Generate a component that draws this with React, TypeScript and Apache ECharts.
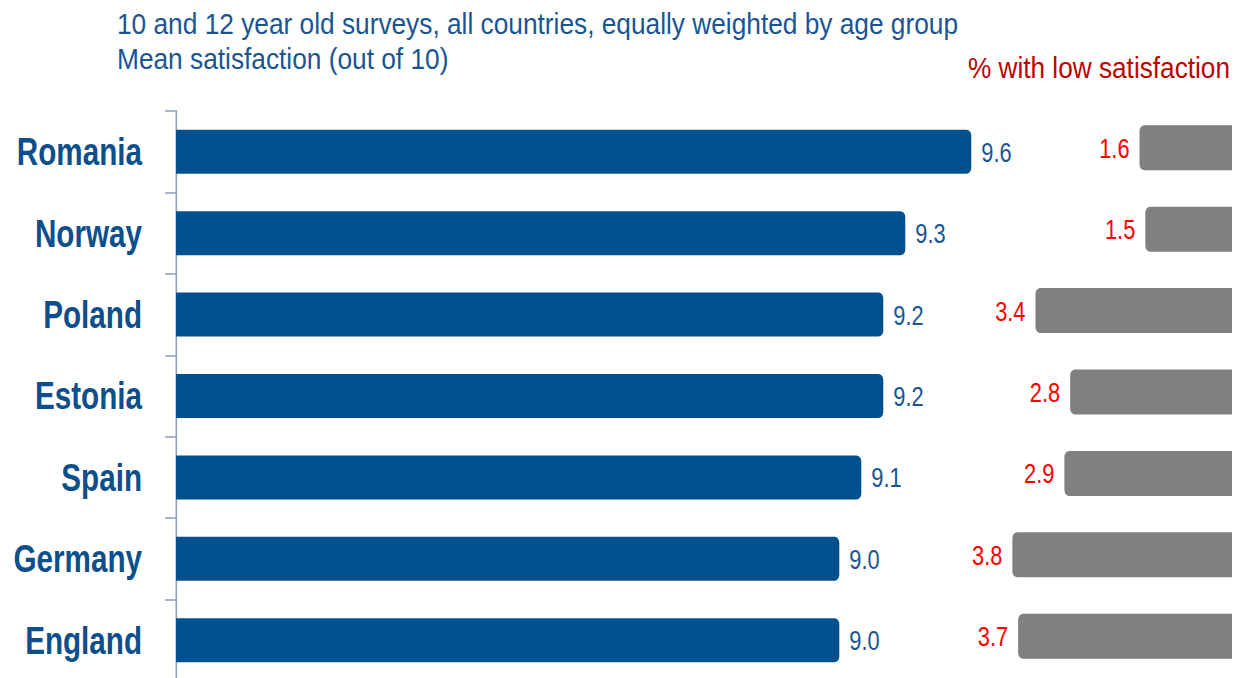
import React, { useEffect, useRef } from "react";
import * as echarts from "echarts";

const countries = ["Romania", "Norway", "Poland", "Estonia", "Spain", "Germany", "England"];
const meanSatisfaction = [9.6, 9.3, 9.2, 9.2, 9.1, 9.0, 9.0];
const lowSatisfaction = [1.6, 1.5, 3.4, 2.8, 2.9, 3.8, 3.7];
const titleLine1 = "10 and 12 year old surveys, all countries, equally weighted by age group";
const titleLine2 = "Mean satisfaction (out of 10)";
const rightTitle = "% with low satisfaction";

const FONT = "'Liberation Sans', Arial, sans-serif";
// The reference is horizontally condensed; draw wider and squeeze with CSS.
const SX = 0.78;
const W = Math.round(1234 / SX);
const LEFT_MIN = 5.985;
const LEFT_MAX = 10;
const PX_PER_UNIT = 220;
const RIGHT_MAX = 4;
const RIGHT_PX_PER_UNIT = 57.8;

export default function App() {
  const ref = useRef<HTMLDivElement>(null);
  useEffect(() => {
    if (!ref.current) return;
    const chart = echarts.init(ref.current, undefined, { renderer: "svg" });
    chart.setOption({
      animation: false,
      backgroundColor: "#ffffff",
      grid: [
        {
          left: 176 / SX,
          top: 111,
          width: (PX_PER_UNIT * (LEFT_MAX - LEFT_MIN)) / SX,
          height: 570,
          outerBoundsMode: "none",
          containLabel: false,
        },
        {
          left: (1232 - RIGHT_MAX * RIGHT_PX_PER_UNIT) / SX,
          top: 107,
          width: (RIGHT_MAX * RIGHT_PX_PER_UNIT) / SX,
          height: 570,
          outerBoundsMode: "none",
          containLabel: false,
        },
      ],
      xAxis: [
        { type: "value", gridIndex: 0, min: LEFT_MIN, max: LEFT_MAX, show: false },
        { type: "value", gridIndex: 1, min: 0, max: RIGHT_MAX, inverse: true, show: false },
      ],
      yAxis: [
        {
          type: "category",
          gridIndex: 0,
          data: countries,
          inverse: true,
          axisLine: { show: true, lineStyle: { color: "#8E9DB8", width: 2 } },
          axisTick: { show: true, length: 14, lineStyle: { color: "#8E9DB8", width: 1.5 } },
          axisLabel: {
            margin: 34 / SX,
            fontFamily: FONT,
            fontWeight: "bold",
            fontSize: 38,
            color: "#0D4F8B",
          },
          splitLine: { show: false },
        },
        {
          type: "category",
          gridIndex: 1,
          data: countries,
          inverse: true,
          show: false,
        },
      ],
      graphic: [
        {
          type: "text",
          x: 117 / SX,
          y: 10,
          scaleX: 1.162,
          style: { text: titleLine1, font: `29px ${FONT}`, fill: "#1A5592", textAlign: "left", textVerticalAlign: "top" },
        },
        {
          type: "text",
          x: 117 / SX,
          y: 45,
          scaleX: 1.162,
          style: { text: titleLine2, font: `29px ${FONT}`, fill: "#1A5592", textAlign: "left", textVerticalAlign: "top" },
        },
        {
          type: "text",
          x: 1230 / SX,
          y: 53,
          scaleX: 1.12,
          style: { text: rightTitle, font: `30px ${FONT}`, fill: "#C00000", textAlign: "right", textVerticalAlign: "top" },
        },
      ],
      series: [
        {
          type: "bar",
          xAxisIndex: 0,
          yAxisIndex: 0,
          data: meanSatisfaction,
          barWidth: 44,
          itemStyle: { color: "#03508F", borderRadius: [0, 6, 6, 0] },
          label: {
            show: true,
            position: "right",
            distance: 10 / SX,
            formatter: (p: any) => Number(p.value).toFixed(1),
            fontFamily: FONT,
            fontSize: 28,
            color: "#1A5592",
          },
        },
        {
          type: "bar",
          xAxisIndex: 1,
          yAxisIndex: 1,
          data: lowSatisfaction,
          barWidth: 45,
          itemStyle: { color: "#808080", borderRadius: [6, 0, 0, 6] },
          label: {
            show: true,
            position: "left",
            distance: 10 / SX,
            formatter: (p: any) => Number(p.value).toFixed(1),
            fontFamily: FONT,
            fontSize: 28,
            color: "#FF0000",
          },
        },
      ],
    });
    return () => chart.dispose();
  }, []);
  return (
    <div style={{ position: "absolute", left: 0, top: 0, width: 1234, height: 678, overflow: "hidden", background: "#fff" }}>
      <div
        ref={ref}
        style={{ width: W, height: 678, transform: `scaleX(${SX})`, transformOrigin: "left top" }}
      />
    </div>
  );
}
